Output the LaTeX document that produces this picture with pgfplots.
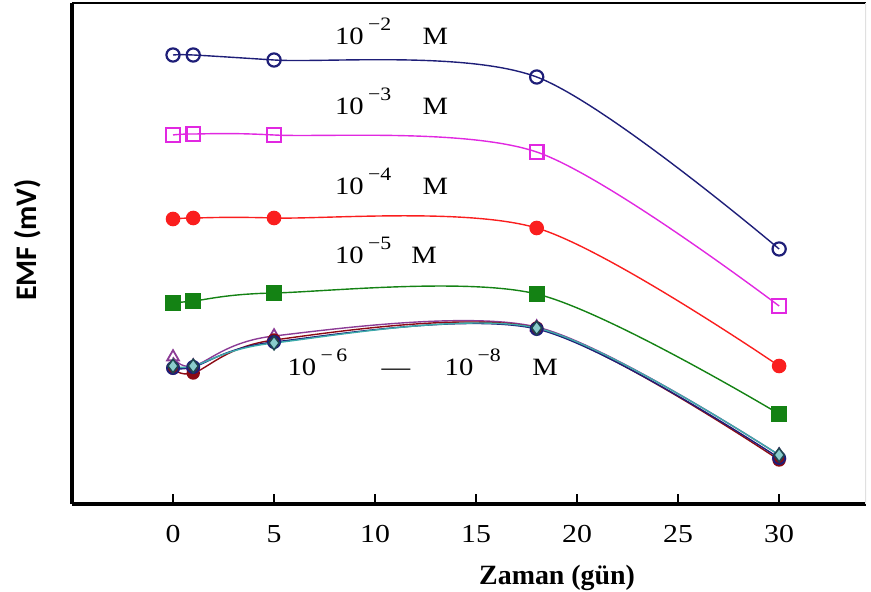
\documentclass[border=0pt]{standalone}
\usepackage{fontspec}
\setmainfont{Liberation Serif}
\newfontfamily\carlito{Carlito}
\usepackage{pgfplots}
\pgfplotsset{compat=1.18}
\definecolor{cnavy}{RGB}{30,30,120}
\definecolor{cmag}{RGB}{225,40,225}
\definecolor{cred}{RGB}{250,30,30}
\definecolor{cgreen}{RGB}{20,130,20}
\definecolor{cpurp}{RGB}{140,60,150}
\definecolor{cdred}{RGB}{140,10,20}
\definecolor{cteal}{RGB}{60,170,170}
\definecolor{cdteal}{RGB}{30,70,80}
\newcommand{\ex}[1]{\hspace{0.15em}\raisebox{0.6em}{\fontsize{9.5}{10}\selectfont #1}}
\begin{document}
\begin{tikzpicture}
\useasboundingbox (0,0) rectangle (435.5bp,296bp);
\begin{axis}[
  at={(36bp,44bp)}, anchor=south west,
  scale only axis, width=397bp, height=250.5bp,
  xmin=-5, xmax=34.3, ymin=0, ymax=501,
  axis x line*=bottom, axis y line*=left,
  axis line style={line width=1.6bp, -},
  xtick={0,5,10,15,20,25,30}, ytick=\empty,
  major tick length=0pt,
  /pgf/number format/assume math mode=true,
  xticklabel style={font=\fontsize{13}{15}\selectfont, xscale=1.15, yshift=-7bp},
  xlabel={\fontsize{14}{16}\selectfont\bfseries Zaman (gün)},
  xlabel style={at={(rel axis cs:0.611,0)}, anchor=north, yshift=-27bp},
  ylabel={\carlito\fontsize{15}{17}\selectfont\bfseries EMF (mV)},
  ylabel style={at={(rel axis cs:0,0.527)}, anchor=south, yshift=12bp},
  every axis plot/.append style={line width=0.7bp, smooth},
  every mark/.append style={xscale=1.25, yscale=0.92},
]
% 10^-2
\addplot[cnavy, mark=o, mark size=3.3bp, mark options={line width=1.1bp}] coordinates {(0,449) (1,449) (5,444) (18,427) (30,255)};
% 10^-3
\addplot[cmag, mark=square, mark size=3.4bp, mark options={line width=1.1bp}] coordinates {(0,369) (1,370) (5,369) (18,352) (30,198)};
% 10^-4
\addplot[cred, mark=*, mark size=3.3bp] coordinates {(0,285) (1,286) (5,286) (18,276) (30,138)};
% 10^-5
\addplot[cgreen, mark=square*, mark size=3.6bp] coordinates {(0,201) (1,203) (5,211) (18,210) (30,90)};
% 10^-6 .. 10^-8
\addplot[cpurp, mark=triangle, mark size=3.4bp, mark options={line width=0.9bp}] coordinates {(0,147) (1,138) (5,168) (18,177) (30,49)};
\addplot[cdred, mark=*, mark size=3bp] coordinates {(0,136) (1,131) (5,164) (18,176) (30,44)};
\addplot[cnavy, mark=o, mark size=3bp, mark options={line width=1bp}] coordinates {(0,136) (1,137) (5,162) (18,175) (30,46)};
\addplot[cteal, mark=diamond*, mark size=3.4bp, mark options={fill=cteal!60!white, draw=cdteal, line width=0.8bp}] coordinates {(0,138) (1,138) (5,161) (18,176) (30,49)};
% labels
\begin{scope}[every node/.style={font=\fontsize{12.5}{14}\selectfont, xscale=1.15, anchor=base west, inner sep=0pt}]
\node at (axis cs:8,459) {10\ex{−2}\hspace{1.1em}M};
\node at (axis cs:8,389) {10\ex{−3}\hspace{1.1em}M};
\node at (axis cs:8,309) {10\ex{−4}\hspace{1.1em}M};
\node at (axis cs:8,240) {10\ex{−5}\hspace{0.7em}M};
\node at (axis cs:5.65,128) {10\ex{−\,6}\hspace{1.2em}—\hspace{1.2em}10\ex{−8}\hspace{1.1em}M};
\end{scope}
% tick marks (inside, bottom)
\pgfplotsinvokeforeach{0,5,10,15,20,25,30}{\draw[black, line width=1bp] (axis cs:#1,0) -- (axis cs:#1,10);}
% frame top and right
\draw[line width=1.2bp] (rel axis cs:0,1) -- (rel axis cs:1,1);
\draw[black!12, line width=0.8bp] (rel axis cs:1,0) -- (rel axis cs:1,1);
\end{axis}
\end{tikzpicture}
\end{document}
